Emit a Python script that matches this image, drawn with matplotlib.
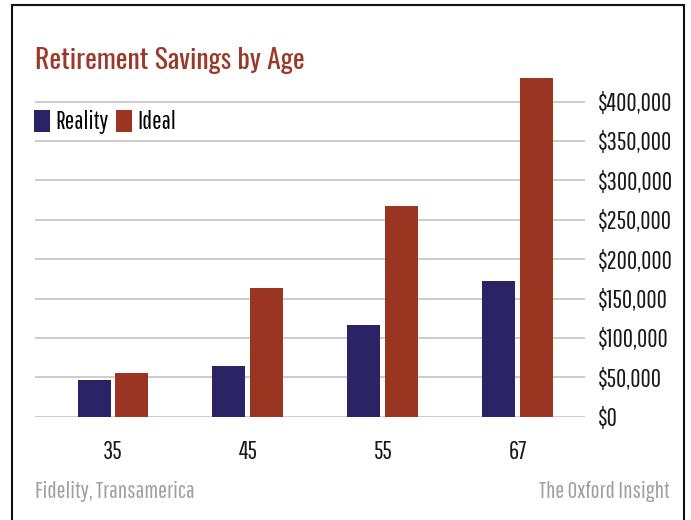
import matplotlib
matplotlib.use('Agg')
import matplotlib.pyplot as plt
from matplotlib.patches import Rectangle
import numpy as np

ages = ['35', '45', '55', '67']
reality = [46000, 64000, 116000, 172000]
ideal = [56000, 163000, 268000, 430000]
y_ticks = [0, 50000, 100000, 150000, 200000, 250000, 300000, 350000, 400000]
y_labels = ['$0', '$50,000', '$100,000', '$150,000', '$200,000',
            '$250,000', '$300,000', '$350,000', '$400,000']

navy = '#2a2466'
rust = '#9a3522'
W, H = 691, 520

plt.rcParams['font.family'] = ['Pathway Gothic One', 'DejaVu Sans']

fig = plt.figure(figsize=(W / 100, H / 100), dpi=100)
fig.patch.set_facecolor('white')

# axes placed in pixel terms of the reference
y0, ytop_val = 416.7, 440000
px_per = 39.4 / 50000
ax_h = ytop_val * px_per
ax = fig.add_axes([35 / W, (H - y0) / H, (585 - 35) / W, ax_h / H])

x = np.arange(len(ages))
bw = 33 / 135
off = 19 / 135
ax.bar(x - off, reality, bw, color=navy, label='Reality', zorder=3)
ax.bar(x + off, ideal, bw, color=rust, label='Ideal', zorder=3)

ax.set_xlim((35 - 113) / 135, (585 - 113) / 135)
ax.set_ylim(0, ytop_val)
ax.set_yticks(y_ticks)
ax.set_yticklabels(y_labels)
ax.yaxis.tick_right()
ax.tick_params(axis='y', length=0, pad=9, labelsize=18, labelcolor='#1a1a1a')
ax.set_xticks(x)
ax.set_xticklabels(ages)
ax.tick_params(axis='x', length=0, pad=17, labelsize=18, labelcolor='#1a1a1a')
ax.grid(axis='y', color='#c8c8c8', lw=1.3, zorder=0)
for s in ax.spines.values():
    s.set_visible(False)

fig.text(35 / W, 1 - 60 / H, 'Retirement Savings by Age', color='#9b3a2a',
         fontsize=20, fontweight='medium', family=['Oswald', 'DejaVu Sans'],
         va='center', ha='left')

fig.legend(loc='center left', bbox_to_anchor=(34 / W, 1 - 122 / H), ncol=2,
           frameon=False, handlelength=0.65, handleheight=1.0,
           handletextpad=0.2, columnspacing=0.3, borderpad=0,
           borderaxespad=0, prop={'size': 18})

fig.text(35 / W, 1 - 492 / H, 'Fidelity, Transamerica', color='#a0a0a0',
         fontsize=17, va='center', ha='left')
fig.text(670 / W, 1 - 492 / H, 'The Oxford Insight', color='#a0a0a0',
         fontsize=17, va='center', ha='right')

fig.patches.append(Rectangle((12 / W, -0.1), 672 / W, 1.1 - 5 / H,
                             transform=fig.transFigure, fill=False,
                             edgecolor='#111111', lw=1.5))

fig.savefig('out.png', dpi=100)
